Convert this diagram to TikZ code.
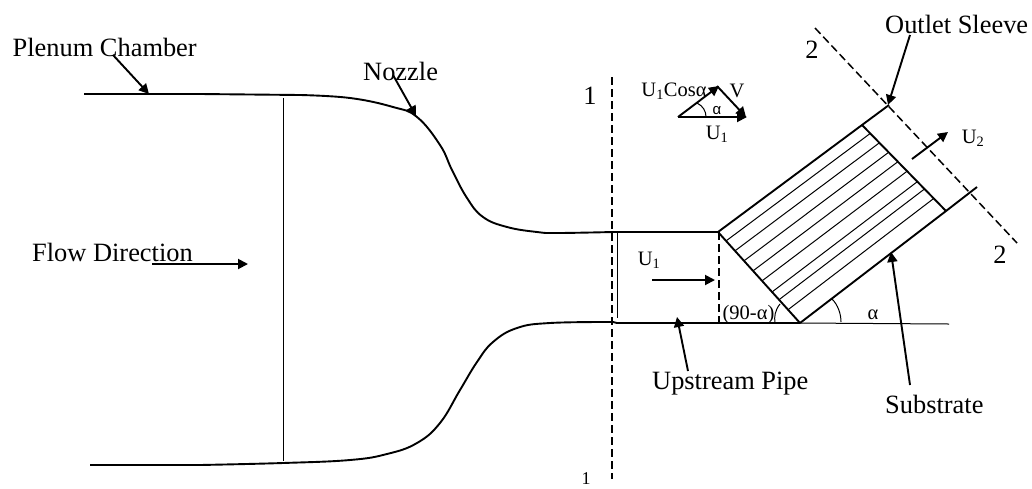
\documentclass[tikz,border=0pt]{standalone}
\usepackage{fontspec}
\setmainfont{Liberation Serif}
\newfontfamily\alsans{Liberation Sans}
\usetikzlibrary{arrows.meta,calc}
\tikzset{
  x=1pt,y=-1pt,
  lab/.style={inner sep=0pt,anchor=base west,font=\fontsize{26.4}{26}\selectfont},
  smlab/.style={inner sep=0pt,font=\fontsize{20.5}{20}\selectfont},
  numlab/.style={inner sep=0pt,font=\fontsize{26.4}{26}\selectfont},
  thick line/.style={line width=1.9pt},
  thin line/.style={line width=1pt},
  lead/.style={line width=1.9pt,-{Triangle[length=10pt,width=10pt]}},
  dash line/.style={line width=1.5pt,dash pattern=on 8pt off 4pt},
}
\begin{document}
\begin{tikzpicture}
\useasboundingbox (0,0) rectangle (1032,488);
% labels
\node[lab] (plenum) at (12.5,56) {Plenum Chamber};
\node[lab] (nozzle) at (363,80) {Nozzle};
\node[lab] (flow) at (32,261) {Flow Direction};
\node[lab] (upstream) at (652,389) {Upstream Pipe};
\node[lab] (substrate) at (885,413) {Substrate};
\node[lab] (outlet) at (885,33) {Outlet Sleeve};
\node[numlab] (one) at (590,96) {1};
\node[numlab,font=\fontsize{18}{18}\selectfont] (onelow) at (586,479) {1};
\node[numlab] (twotop) at (812,50) {2};
\node[numlab] (twolow) at (1000,255) {2};
\node[smlab] (cos) at (674,91) {U\textsubscript{1}Cosα};
\node[smlab] (vv) at (737,91) {V};
\node[smlab,font=\fontsize{15}{15}\selectfont\alsans] (al) at (717,111) {α};
\node[smlab] (ua) at (717,134) {U\textsubscript{1}};
\node[smlab] (ub) at (973,138) {U\textsubscript{2}};
\node[smlab] (uc) at (649,260) {U\textsubscript{1}};
\node[smlab] (ninety) at (748.5,315) {(90-α)};
\node[smlab] (alb) at (873,315) {α};
% coordinates
\coordinate (A) at (718,232);
\coordinate (B) at (800,323);
\coordinate (C) at (862,125);
\coordinate (D) at (946,211);
\coordinate (E) at (889,105);
\coordinate (F) at (977,187);
% nozzle
\draw[thick line] (84,94) -- (200,94) -- (300,95) plot[smooth,tension=0.7] coordinates {(300,95) (350,98) (393,107) (417,117) (440,145) (452,170) (467,198) (483,217) (507,227) (537,232) (557,233) (613,232)} -- (718,232);
\draw[thick line] (90,465) -- (200,465) plot[smooth,tension=0.7] coordinates {(200,465) (283,463) (350,460) (387,454) (417,443) (440,423) (460,390) (477,362) (493,342) (517,328) (550,323) (613,322)} -- (617,323) -- (B);
\draw[thin line] (283,98) -- (283,461);
\draw[thin line] (617,232) -- (617,318);
\draw[dash line] (612,77) -- (612,479);
\draw[dash line] (719,232) -- (719,323);
\draw[dash line] (815,28) -- (1017,243);
% substrate
\draw[thick line] (A) -- (B);
\draw[thick line] (A) -- (C) -- (E);
\draw[thick line] (B) -- (D) -- (F);
\draw[thick line] (C) -- (D);
\foreach \t in {0.098,0.207,0.317,0.427,0.537,0.659,0.744,0.854}
  \draw[thin line] ($(A)!\t!(B)$) -- ($(C)!\t!(D)$);
\draw[thin line] (B) -- (949,324);
\draw[thin line] (780,304) .. controls (775,310) and (774,317) .. (775,323);
\draw[thin line] (832,299) .. controls (838,305) and (841,314) .. (841,322);
% leader arrows
\coordinate (p1) at (149,94);
\draw[lead] (113,55) -- (p1);
\coordinate (p2) at (416,116);
\draw[lead] (393,75) -- (p2);
\draw[lead] (152,264) -- (248,264);
\draw[lead] (910,35) -- (888,105);
\draw[lead] (912,159) -- (948,132);
\draw[lead] (652,280) -- (715,280);
\draw[lead] (688,371) -- (677,317);
\draw[lead] (910,385) -- (891,252);
% velocity triangle
\draw[lead] (678,117) -- (747,117);
\draw[lead] (678,117) -- (719,86);
\draw[lead] (717,86) -- (746,117);
\draw[thin line] (697,103) .. controls (703,106) and (706,111) .. (706,117);
\end{tikzpicture}
\end{document}
